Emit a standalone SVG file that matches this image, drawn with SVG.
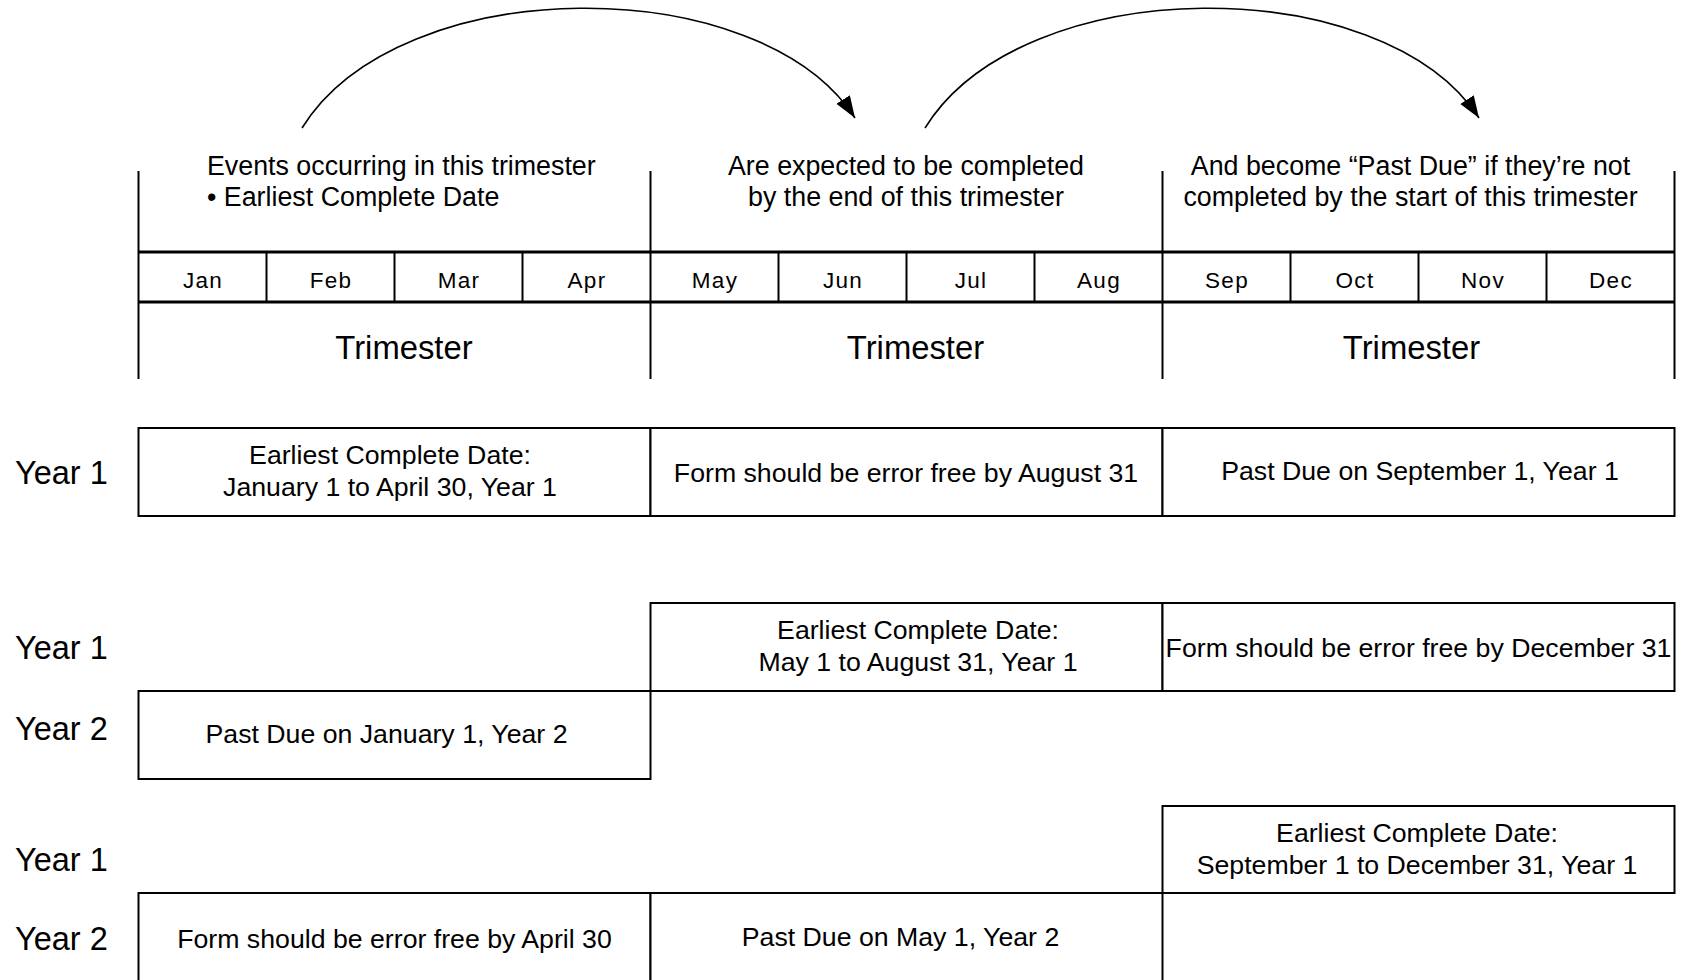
<svg xmlns="http://www.w3.org/2000/svg" width="1683" height="980" viewBox="0 0 1683 980">
<style>
text{font-family:"Liberation Sans",Arial,sans-serif;fill:#000}
.hd{font-size:26.8px}
.mo{font-size:22.5px;letter-spacing:1.3px;text-anchor:middle}
.tri{font-size:32.8px;text-anchor:middle}
.yr{font-size:32.5px}
.bx{font-size:26.7px;text-anchor:middle}
.c{text-anchor:middle}
.cell{fill:#fff;stroke:#000;stroke-width:2}
.ln{stroke:#000;stroke-width:2;fill:none}
.thk{stroke:#000;stroke-width:3;fill:none}
.arc{stroke:#000;stroke-width:1.6;fill:none;marker-end:url(#ah)}
</style>
<defs>
<marker id="ah" markerUnits="userSpaceOnUse" markerWidth="24" markerHeight="18" refX="22" refY="8" orient="auto">
<path d="M0,0 L22,8 L0,16 Z" fill="#000"/>
</marker>
</defs>
<rect width="1683" height="980" fill="#fff"/>

<g id="connectors">
<path class="arc" d="M302,128 C400,-30 760,-30 855,118"/>
<path class="arc" d="M925,128 C1023,-30 1383,-30 1479,118"/>
</g>

<g id="timeline">
<line class="ln" x1="138.5" y1="171" x2="138.5" y2="379"/>
<line class="ln" x1="650.5" y1="171" x2="650.5" y2="379"/>
<line class="ln" x1="1162.5" y1="171" x2="1162.5" y2="379"/>
<line class="ln" x1="1674.5" y1="171" x2="1674.5" y2="379"/>
<line class="thk" x1="138.5" y1="252" x2="1674.5" y2="252"/>
<line class="thk" x1="138.5" y1="302" x2="1674.5" y2="302"/>
<g class="ln">
<line x1="266.5" y1="252" x2="266.5" y2="302"/>
<line x1="394.5" y1="252" x2="394.5" y2="302"/>
<line x1="522.5" y1="252" x2="522.5" y2="302"/>
<line x1="778.5" y1="252" x2="778.5" y2="302"/>
<line x1="906.5" y1="252" x2="906.5" y2="302"/>
<line x1="1034.5" y1="252" x2="1034.5" y2="302"/>
<line x1="1290.5" y1="252" x2="1290.5" y2="302"/>
<line x1="1418.5" y1="252" x2="1418.5" y2="302"/>
<line x1="1546.5" y1="252" x2="1546.5" y2="302"/>
</g>
<text class="mo" x="203" y="288">Jan</text>
<text class="mo" x="331" y="288">Feb</text>
<text class="mo" x="459" y="288">Mar</text>
<text class="mo" x="587" y="288">Apr</text>
<text class="mo" x="715" y="288">May</text>
<text class="mo" x="843" y="288">Jun</text>
<text class="mo" x="971" y="288">Jul</text>
<text class="mo" x="1099" y="288">Aug</text>
<text class="mo" x="1227" y="288">Sep</text>
<text class="mo" x="1355" y="288">Oct</text>
<text class="mo" x="1483" y="288">Nov</text>
<text class="mo" x="1611" y="288">Dec</text>
<text class="tri" x="404" y="359">Trimester</text>
<text class="tri" x="915.5" y="359">Trimester</text>
<text class="tri" x="1411.5" y="359">Trimester</text>
</g>

<g id="header1">
<text class="hd" x="207" y="175">Events occurring in this trimester</text>
<text class="hd" x="207" y="206">• Earliest Complete Date</text>
</g>
<g id="header2">
<text class="hd c" x="906" y="175">Are expected to be completed</text>
<text class="hd c" x="906" y="206">by the end of this trimester</text>
</g>
<g id="header3">
<text class="hd c" x="1410.5" y="175">And become “Past Due” if they’re not</text>
<text class="hd c" x="1410.5" y="206">completed by the start of this trimester</text>
</g>

<g id="labels">
<text class="yr" x="15" y="484">Year 1</text>
<text class="yr" x="15" y="659">Year 1</text>
<text class="yr" x="15" y="740">Year 2</text>
<text class="yr" x="15" y="871">Year 1</text>
<text class="yr" x="15" y="950">Year 2</text>
</g>

<g id="rowA1">
<rect class="cell" x="138.5" y="428" width="512" height="88"/>
<text class="bx" x="390" y="464">Earliest Complete Date:</text>
<text class="bx" x="390" y="496">January 1 to April 30, Year 1</text>
</g>
<g id="rowA2">
<rect class="cell" x="650.5" y="428" width="512" height="88"/>
<text class="bx" x="906" y="482">Form should be error free by August 31</text>
</g>
<g id="rowA3">
<rect class="cell" x="1162.5" y="428" width="512" height="88"/>
<text class="bx" x="1420" y="480">Past Due on September 1, Year 1</text>
</g>

<g id="rowB1">
<rect class="cell" x="650.5" y="603" width="512" height="88"/>
<text class="bx" x="918" y="639">Earliest Complete Date:</text>
<text class="bx" x="918" y="671">May 1 to August 31, Year 1</text>
</g>
<g id="rowB2">
<rect class="cell" x="1162.5" y="603" width="512" height="88"/>
<text class="bx" x="1418.5" y="657">Form should be error free by December 31</text>
</g>
<g id="rowB3">
<rect class="cell" x="138.5" y="691" width="512" height="88"/>
<text class="bx" x="386.5" y="743">Past Due on January 1, Year 2</text>
</g>

<g id="rowC1">
<rect class="cell" x="1162.5" y="806" width="512" height="87"/>
<text class="bx" x="1417" y="842">Earliest Complete Date:</text>
<text class="bx" x="1417" y="874">September 1 to December 31, Year 1</text>
</g>
<g id="rowC2">
<rect class="cell" x="138.5" y="893" width="512" height="100"/>
<text class="bx" x="394.5" y="948">Form should be error free by April 30</text>
</g>
<g id="rowC3">
<rect class="cell" x="650.5" y="893" width="512" height="100"/>
<text class="bx" x="900.5" y="946">Past Due on May 1, Year 2</text>
</g>
</svg>
